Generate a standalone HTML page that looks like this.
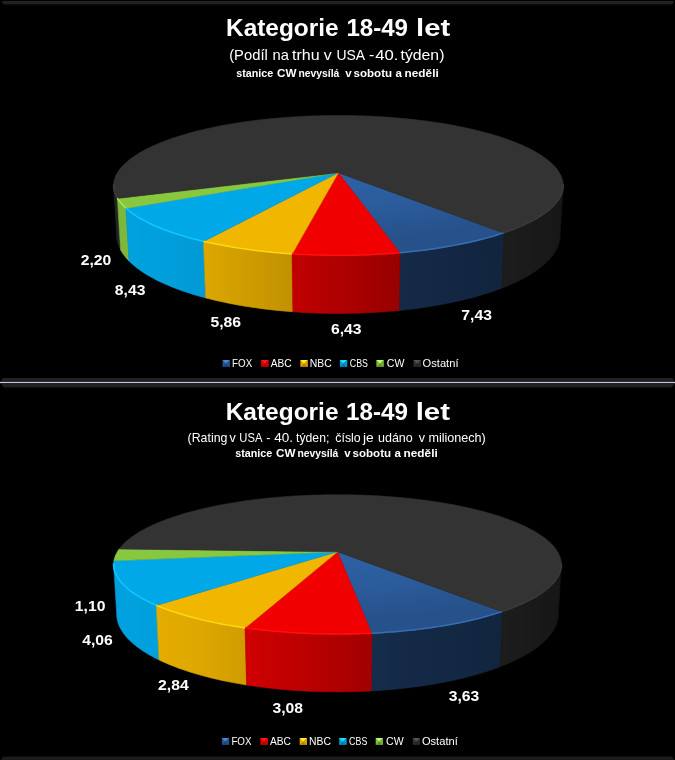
<!DOCTYPE html>
<html><head><meta charset="utf-8"><title>Kategorie 18-49 let</title>
<style>html,body{margin:0;padding:0;background:#000;}svg{display:block;font-family:"Liberation Sans",sans-serif;}</style>
</head><body>
<svg width="675" height="760" viewBox="0 0 675 760">
<defs>
<linearGradient id="ga0" gradientUnits="userSpaceOnUse" x1="117.4" y1="0" x2="113.6" y2="0"><stop offset="-0.000" stop-color="#242424"/><stop offset="0.331" stop-color="#242424"/><stop offset="0.595" stop-color="#242424"/><stop offset="0.793" stop-color="#242424"/><stop offset="0.926" stop-color="#242424"/><stop offset="0.994" stop-color="#242424"/><stop offset="1.000" stop-color="#232323"/></linearGradient>
<linearGradient id="ga1" gradientUnits="userSpaceOnUse" x1="125.9" y1="0" x2="117.4" y2="0"><stop offset="-0.000" stop-color="#7db83b"/><stop offset="0.207" stop-color="#7db83b"/><stop offset="0.398" stop-color="#7db83b"/><stop offset="0.572" stop-color="#7db73b"/><stop offset="0.731" stop-color="#7cb73b"/><stop offset="0.873" stop-color="#7cb73a"/><stop offset="1.000" stop-color="#7cb73a"/></linearGradient>
<linearGradient id="ga2" gradientUnits="userSpaceOnUse" x1="563.2" y1="0" x2="503.5" y2="0"><stop offset="-0.000" stop-color="#141414"/><stop offset="0.021" stop-color="#161616"/><stop offset="0.098" stop-color="#171717"/><stop offset="0.234" stop-color="#181818"/><stop offset="0.430" stop-color="#191919"/><stop offset="0.686" stop-color="#1b1b1b"/><stop offset="1.000" stop-color="#1c1c1c"/></linearGradient>
<linearGradient id="ga3" gradientUnits="userSpaceOnUse" x1="203.6" y1="0" x2="125.9" y2="0"><stop offset="-0.000" stop-color="#009bd5"/><stop offset="0.227" stop-color="#009cd8"/><stop offset="0.432" stop-color="#009eda"/><stop offset="0.613" stop-color="#00a0dc"/><stop offset="0.768" stop-color="#00a0dd"/><stop offset="0.897" stop-color="#00a1de"/><stop offset="1.000" stop-color="#00a1de"/></linearGradient>
<linearGradient id="ga4" gradientUnits="userSpaceOnUse" x1="503.5" y1="0" x2="400.0" y2="0"><stop offset="-0.000" stop-color="#11253e"/><stop offset="0.138" stop-color="#12253f"/><stop offset="0.289" stop-color="#122641"/><stop offset="0.452" stop-color="#132742"/><stop offset="0.626" stop-color="#132844"/><stop offset="0.809" stop-color="#132945"/><stop offset="1.000" stop-color="#142a47"/></linearGradient>
<linearGradient id="ga5" gradientUnits="userSpaceOnUse" x1="292.1" y1="0" x2="203.6" y2="0"><stop offset="-0.000" stop-color="#c19100"/><stop offset="0.181" stop-color="#c69500"/><stop offset="0.357" stop-color="#cb9900"/><stop offset="0.528" stop-color="#d09d00"/><stop offset="0.693" stop-color="#d4a000"/><stop offset="0.851" stop-color="#d9a400"/><stop offset="1.000" stop-color="#dea700"/></linearGradient>
<linearGradient id="ga6" gradientUnits="userSpaceOnUse" x1="400.0" y1="0" x2="292.1" y2="0"><stop offset="-0.000" stop-color="#980000"/><stop offset="0.163" stop-color="#9e0000"/><stop offset="0.329" stop-color="#a50000"/><stop offset="0.498" stop-color="#ac0000"/><stop offset="0.666" stop-color="#b30000"/><stop offset="0.834" stop-color="#ba0000"/><stop offset="1.000" stop-color="#c10000"/></linearGradient>
<radialGradient id="ta" gradientUnits="userSpaceOnUse" cx="338.4" cy="172.8" r="225" gradientTransform="translate(0 172.8) scale(1 0.31) translate(0 -172.8)"><stop offset="0" stop-color="#2e62a6"/><stop offset="0.55" stop-color="#2b5b9a"/><stop offset="1" stop-color="#26518a"/></radialGradient>
<linearGradient id="gb0" gradientUnits="userSpaceOnUse" x1="156.4" y1="0" x2="113.6" y2="0"><stop offset="-0.000" stop-color="#00a0dc"/><stop offset="0.316" stop-color="#00a0dd"/><stop offset="0.573" stop-color="#00a1de"/><stop offset="0.768" stop-color="#00a1de"/><stop offset="0.903" stop-color="#00a0dd"/><stop offset="0.980" stop-color="#009fdb"/><stop offset="1.000" stop-color="#009eda"/></linearGradient>
<linearGradient id="gb1" gradientUnits="userSpaceOnUse" x1="561.4" y1="0" x2="501.9" y2="0"><stop offset="-0.000" stop-color="#141414"/><stop offset="0.021" stop-color="#161616"/><stop offset="0.098" stop-color="#171717"/><stop offset="0.234" stop-color="#181818"/><stop offset="0.430" stop-color="#191919"/><stop offset="0.686" stop-color="#1b1b1b"/><stop offset="1.000" stop-color="#1c1c1c"/></linearGradient>
<linearGradient id="gb2" gradientUnits="userSpaceOnUse" x1="245.0" y1="0" x2="156.4" y2="0"><stop offset="-0.000" stop-color="#d09d00"/><stop offset="0.198" stop-color="#d5a100"/><stop offset="0.385" stop-color="#dba500"/><stop offset="0.559" stop-color="#dfa800"/><stop offset="0.721" stop-color="#e1aa00"/><stop offset="0.868" stop-color="#e3ab00"/><stop offset="1.000" stop-color="#e5ad00"/></linearGradient>
<linearGradient id="gb3" gradientUnits="userSpaceOnUse" x1="501.9" y1="0" x2="371.8" y2="0"><stop offset="-0.000" stop-color="#11253e"/><stop offset="0.135" stop-color="#122640"/><stop offset="0.285" stop-color="#122741"/><stop offset="0.449" stop-color="#132843"/><stop offset="0.624" stop-color="#132945"/><stop offset="0.809" stop-color="#142a47"/><stop offset="1.000" stop-color="#152d4c"/></linearGradient>
<linearGradient id="gb4" gradientUnits="userSpaceOnUse" x1="371.8" y1="0" x2="245.0" y2="0"><stop offset="-0.000" stop-color="#a20000"/><stop offset="0.170" stop-color="#aa0000"/><stop offset="0.341" stop-color="#b20000"/><stop offset="0.512" stop-color="#bb0000"/><stop offset="0.679" stop-color="#c20000"/><stop offset="0.843" stop-color="#c90000"/><stop offset="1.000" stop-color="#d00000"/></linearGradient>
<radialGradient id="tb" gradientUnits="userSpaceOnUse" cx="337.5" cy="551.8" r="225" gradientTransform="translate(0 551.8) scale(1 0.31) translate(0 -551.8)"><stop offset="0" stop-color="#2e62a6"/><stop offset="0.55" stop-color="#2b5b9a"/><stop offset="1" stop-color="#26518a"/></radialGradient>
</defs>
<rect x="0" y="0" width="675" height="760" fill="#000"/>
<polygon points="1.50,1.00 674.00,1.00 672.50,4.00 3.50,4.00" fill="#212121"/>
<polygon points="3.50,4.00 672.50,4.00 671.50,5.60 4.50,5.60" fill="#0b0b0b"/>
<polygon points="3.00,378.00 672.50,378.00 674.50,381.50 0.60,381.50" fill="#222222"/>
<rect x="0" y="382" width="675" height="1" fill="#c4cad8"/>
<rect x="0" y="381.6" width="675" height="0.4" fill="#505460"/>
<rect x="0" y="383" width="675" height="0.4" fill="#505460"/>
<polygon points="1.20,384.00 674.00,384.00 672.00,387.00 3.50,387.00" fill="#212121"/>
<polygon points="3.50,387.00 672.00,387.00 671.00,388.60 4.50,388.60" fill="#0b0b0b"/>
<polygon points="3.00,756.50 672.00,756.50 674.00,760.00 1.00,760.00" fill="#1b1b1b"/>
<polygon points="117.42,198.45 116.69,197.18 116.05,195.91 115.47,194.64 114.98,193.38 114.56,192.11 114.21,190.85 113.94,189.59 113.74,188.33 113.62,187.08 113.56,185.83 113.58,184.58 116.71,234.53 116.70,235.92 116.76,237.32 116.90,238.71 117.10,240.12 117.38,241.52 117.73,242.92 118.16,244.33 118.66,245.74 119.23,247.15 119.88,248.56 120.60,249.98" fill="url(#ga0)" stroke="url(#ga0)" stroke-width="0.6"/>
<polygon points="125.88,208.40 124.37,206.99 122.96,205.57 121.65,204.15 120.45,202.73 119.34,201.30 118.33,199.88 117.42,198.45 120.60,249.98 121.51,251.57 122.52,253.16 123.62,254.74 124.82,256.33 126.12,257.91 127.52,259.48 129.02,261.05" fill="url(#ga1)" stroke="url(#ga1)" stroke-width="0.6"/>
<polygon points="563.22,184.58 563.24,185.83 563.18,187.09 563.06,188.35 562.86,189.61 562.58,190.87 562.23,192.14 561.81,193.41 561.31,194.68 560.73,195.96 560.08,197.23 559.35,198.50 558.54,199.77 557.65,201.05 556.69,202.32 555.64,203.58 554.52,204.85 553.31,206.11 552.03,207.37 550.66,208.63 549.22,209.88 547.69,211.13 546.08,212.37 544.40,213.60 542.63,214.83 540.78,216.05 538.85,217.27 536.84,218.47 534.74,219.67 532.57,220.85 530.32,222.03 527.99,223.19 525.57,224.35 523.08,225.49 520.51,226.62 517.87,227.74 515.14,228.84 512.34,229.93 509.46,231.00 506.50,232.06 503.48,233.10 500.89,288.49 503.88,287.33 506.80,286.16 509.64,284.97 512.40,283.76 515.09,282.53 517.71,281.29 520.24,280.04 522.70,278.77 525.09,277.49 527.39,276.20 529.62,274.89 531.77,273.57 533.83,272.24 535.82,270.90 537.73,269.55 539.56,268.20 541.32,266.83 542.99,265.46 544.58,264.08 546.09,262.69 547.53,261.30 548.88,259.91 550.16,258.50 551.35,257.10 552.47,255.69 553.51,254.28 554.47,252.87 555.36,251.45 556.16,250.04 556.89,248.62 557.55,247.20 558.13,245.79 558.63,244.37 559.06,242.96 559.41,241.55 559.69,240.14 559.90,238.73 560.04,237.33 560.10,235.93 560.09,234.53" fill="url(#ga2)" stroke="url(#ga2)" stroke-width="0.6"/>
<polygon points="203.57,241.60 199.90,240.72 196.30,239.83 192.77,238.91 189.30,237.97 185.90,237.02 182.58,236.04 179.32,235.04 176.14,234.03 173.03,233.00 170.00,231.95 167.04,230.89 164.16,229.81 161.35,228.71 158.62,227.61 155.97,226.48 153.40,225.35 150.91,224.20 148.50,223.04 146.17,221.87 143.92,220.69 141.75,219.49 139.66,218.29 137.65,217.08 135.73,215.86 133.88,214.63 132.12,213.40 130.44,212.16 128.84,210.91 127.32,209.66 125.88,208.40 129.02,261.05 130.45,262.45 131.95,263.84 133.54,265.23 135.20,266.61 136.95,267.98 138.77,269.34 140.68,270.70 142.67,272.04 144.73,273.38 146.88,274.70 149.10,276.02 151.40,277.32 153.79,278.61 156.25,279.88 158.79,281.14 161.40,282.39 164.09,283.62 166.86,284.84 169.71,286.04 172.62,287.22 175.62,288.38 178.68,289.52 181.82,290.65 185.03,291.75 188.31,292.84 191.66,293.90 195.08,294.94 198.56,295.96 202.11,296.95 205.72,297.92" fill="url(#ga3)" stroke="url(#ga3)" stroke-width="0.6"/>
<polygon points="503.48,233.10 500.31,234.15 497.06,235.17 493.74,236.18 490.35,237.17 486.88,238.14 483.34,239.09 479.73,240.02 476.06,240.93 472.31,241.81 468.50,242.67 464.62,243.51 460.68,244.33 456.68,245.12 452.62,245.88 448.51,246.62 444.33,247.33 440.11,248.02 435.83,248.68 431.50,249.31 427.12,249.91 422.69,250.49 418.23,251.03 413.72,251.55 409.17,252.04 404.58,252.49 399.96,252.92 398.95,310.48 403.50,310.00 408.01,309.50 412.49,308.96 416.93,308.38 421.32,307.78 425.68,307.14 429.99,306.47 434.25,305.77 438.46,305.04 442.62,304.28 446.73,303.49 450.79,302.67 454.78,301.82 458.72,300.95 462.60,300.05 466.42,299.12 470.17,298.16 473.86,297.18 477.49,296.17 481.04,295.14 484.53,294.09 487.95,293.01 491.29,291.91 494.57,290.79 497.77,289.65 500.89,288.49" fill="url(#ga4)" stroke="url(#ga4)" stroke-width="0.6"/>
<polygon points="292.13,254.10 287.52,253.78 282.94,253.43 278.38,253.06 273.86,252.65 269.37,252.21 264.91,251.75 260.49,251.26 256.11,250.74 251.77,250.19 247.48,249.61 243.22,249.01 239.02,248.38 234.86,247.73 230.76,247.04 226.70,246.34 222.70,245.61 218.76,244.85 214.87,244.07 211.04,243.27 207.28,242.45 203.57,241.60 205.72,297.92 209.37,298.86 213.08,299.78 216.85,300.67 220.68,301.53 224.56,302.37 228.50,303.18 232.49,303.96 236.53,304.72 240.63,305.44 244.77,306.14 248.95,306.81 253.18,307.45 257.45,308.06 261.76,308.63 266.11,309.18 270.50,309.69 274.91,310.18 279.37,310.63 283.85,311.04 288.35,311.43 292.89,311.78" fill="url(#ga5)" stroke="url(#ga5)" stroke-width="0.6"/>
<polygon points="399.96,252.92 395.41,253.31 390.83,253.67 386.22,253.99 381.59,254.29 376.93,254.56 372.26,254.80 367.57,255.01 362.86,255.18 358.14,255.33 353.42,255.44 348.68,255.52 343.94,255.58 339.19,255.60 334.45,255.59 329.71,255.55 324.97,255.47 320.24,255.37 315.51,255.23 310.80,255.07 306.11,254.87 301.43,254.64 296.77,254.39 292.13,254.10 292.89,311.78 297.45,312.10 302.03,312.39 306.64,312.64 311.26,312.86 315.89,313.04 320.53,313.19 325.19,313.31 329.85,313.39 334.51,313.43 339.18,313.44 343.85,313.42 348.51,313.36 353.17,313.27 357.82,313.15 362.46,312.98 367.09,312.79 371.70,312.56 376.30,312.30 380.88,312.00 385.44,311.67 389.97,311.30 394.48,310.91 398.95,310.48" fill="url(#ga6)" stroke="url(#ga6)" stroke-width="0.6"/>
<polygon points="338.40,172.80 503.48,233.10 500.31,234.15 497.06,235.17 493.74,236.18 490.35,237.17 486.88,238.14 483.34,239.09 479.73,240.02 476.06,240.93 472.31,241.81 468.50,242.67 464.62,243.51 460.68,244.33 456.68,245.12 452.62,245.88 448.51,246.62 444.33,247.33 440.11,248.02 435.83,248.68 431.50,249.31 427.12,249.91 422.69,250.49 418.23,251.03 413.72,251.55 409.17,252.04 404.58,252.49 399.96,252.92" fill="url(#ta)" stroke="#2b5b9a" stroke-width="0.5"/>
<polygon points="338.40,172.80 399.96,252.92 395.41,253.31 390.83,253.67 386.22,253.99 381.59,254.29 376.93,254.56 372.26,254.80 367.57,255.01 362.86,255.18 358.14,255.33 353.42,255.44 348.68,255.52 343.94,255.58 339.19,255.60 334.45,255.59 329.71,255.55 324.97,255.47 320.24,255.37 315.51,255.23 310.80,255.07 306.11,254.87 301.43,254.64 296.77,254.39 292.13,254.10" fill="#f10000" stroke="#f10000" stroke-width="0.5"/>
<polygon points="338.40,172.80 292.13,254.10 287.52,253.78 282.94,253.43 278.38,253.06 273.86,252.65 269.37,252.21 264.91,251.75 260.49,251.26 256.11,250.74 251.77,250.19 247.48,249.61 243.22,249.01 239.02,248.38 234.86,247.73 230.76,247.04 226.70,246.34 222.70,245.61 218.76,244.85 214.87,244.07 211.04,243.27 207.28,242.45 203.57,241.60" fill="#f1b600" stroke="#f1b600" stroke-width="0.5"/>
<polygon points="338.40,172.80 203.57,241.60 199.90,240.72 196.30,239.83 192.77,238.91 189.30,237.97 185.90,237.02 182.58,236.04 179.32,235.04 176.14,234.03 173.03,233.00 170.00,231.95 167.04,230.89 164.16,229.81 161.35,228.71 158.62,227.61 155.97,226.48 153.40,225.35 150.91,224.20 148.50,223.04 146.17,221.87 143.92,220.69 141.75,219.49 139.66,218.29 137.65,217.08 135.73,215.86 133.88,214.63 132.12,213.40 130.44,212.16 128.84,210.91 127.32,209.66 125.88,208.40" fill="#00a8e8" stroke="#00a8e8" stroke-width="0.5"/>
<polygon points="338.40,172.80 125.88,208.40 124.37,206.99 122.96,205.57 121.65,204.15 120.45,202.73 119.34,201.30 118.33,199.88 117.42,198.45" fill="#88c840" stroke="#88c840" stroke-width="0.5"/>
<polygon points="338.40,172.80 117.42,198.45 116.69,197.18 116.05,195.91 115.48,194.65 114.98,193.38 114.56,192.12 114.21,190.86 113.94,189.60 113.74,188.34 113.62,187.08 113.56,185.83 113.58,184.59 113.67,183.35 113.83,182.11 114.05,180.88 114.35,179.65 114.71,178.43 115.14,177.21 115.64,176.00 116.20,174.80 116.83,173.61 117.52,172.42 118.28,171.24 119.09,170.07 119.97,168.90 120.91,167.75 121.91,166.60 122.96,165.46 124.08,164.33 125.25,163.22 126.48,162.11 127.76,161.01 129.10,159.92 130.49,158.84 131.94,157.77 133.43,156.71 134.98,155.67 136.58,154.63 138.23,153.61 139.92,152.59 141.67,151.59 143.46,150.60 145.30,149.62 147.18,148.66 149.10,147.70 151.07,146.76 153.09,145.83 155.14,144.92 157.24,144.01 159.37,143.12 161.55,142.25 163.76,141.38 166.01,140.53 168.30,139.69 170.62,138.87 172.98,138.05 175.38,137.26 177.81,136.47 180.27,135.70 182.76,134.94 185.29,134.20 187.85,133.47 190.43,132.75 193.05,132.05 195.69,131.37 198.37,130.69 201.07,130.03 203.79,129.39 206.55,128.76 209.32,128.14 212.13,127.54 214.95,126.95 217.80,126.37 220.67,125.81 223.57,125.27 226.48,124.74 229.42,124.22 232.37,123.72 235.34,123.24 238.34,122.76 241.35,122.31 244.37,121.86 247.42,121.43 250.48,121.02 253.56,120.62 256.65,120.24 259.75,119.87 262.87,119.51 266.00,119.17 269.15,118.85 272.30,118.54 275.47,118.24 278.65,117.96 281.84,117.69 285.03,117.44 288.24,117.21 291.46,116.99 294.68,116.78 297.91,116.59 301.15,116.41 304.39,116.25 307.64,116.10 310.89,115.97 314.15,115.85 317.42,115.75 320.68,115.66 323.95,115.59 327.22,115.53 330.50,115.48 333.77,115.46 337.05,115.44 340.32,115.44 343.60,115.46 346.87,115.49 350.15,115.54 353.42,115.60 356.69,115.67 359.95,115.76 363.21,115.87 366.47,115.99 369.73,116.12 372.97,116.27 376.22,116.44 379.45,116.62 382.68,116.81 385.90,117.02 389.12,117.25 392.32,117.49 395.52,117.74 398.71,118.01 401.88,118.29 405.05,118.59 408.20,118.90 411.34,119.23 414.47,119.57 417.59,119.93 420.69,120.30 423.78,120.69 426.85,121.09 429.91,121.51 432.95,121.94 435.98,122.38 438.98,122.84 441.97,123.32 444.94,123.81 447.90,124.31 450.83,124.83 453.74,125.36 456.63,125.91 459.50,126.47 462.34,127.05 465.16,127.64 467.96,128.24 470.73,128.86 473.48,129.50 476.20,130.15 478.90,130.81 481.57,131.48 484.21,132.17 486.82,132.88 489.40,133.60 491.95,134.33 494.47,135.07 496.96,135.83 499.42,136.61 501.84,137.39 504.23,138.19 506.58,139.01 508.90,139.84 511.18,140.68 513.43,141.53 515.63,142.40 517.80,143.28 519.93,144.17 522.02,145.08 524.07,145.99 526.07,146.93 528.03,147.87 529.95,148.82 531.83,149.79 533.66,150.77 535.44,151.76 537.17,152.77 538.86,153.78 540.50,154.81 542.09,155.85 543.63,156.90 545.12,157.95 546.55,159.03 547.94,160.11 549.26,161.20 550.54,162.30 551.76,163.41 552.92,164.53 554.02,165.66 555.07,166.80 556.06,167.95 556.99,169.10 557.85,170.27 558.66,171.44 559.40,172.63 560.08,173.81 560.70,175.01 561.25,176.21 561.73,177.42 562.15,178.64 562.51,179.86 562.79,181.09 563.01,182.32 563.15,183.56 563.23,184.80 563.23,186.05 563.17,187.30 563.03,188.56 562.82,189.81 562.53,191.07 562.17,192.34 561.74,193.60 561.23,194.87 560.65,196.13 559.99,197.40 559.25,198.67 558.43,199.93 557.54,201.20 556.57,202.46 555.52,203.73 554.39,204.99 553.18,206.24 551.90,207.50 550.53,208.75 549.08,209.99 547.56,211.23 545.95,212.47 544.26,213.70 542.50,214.92 540.65,216.13 538.72,217.34 536.71,218.54 534.63,219.73 532.46,220.91 530.21,222.08 527.89,223.24 525.49,224.39 523.00,225.53 520.44,226.65 517.80,227.76 515.09,228.86 512.30,229.94 509.43,231.01 506.49,232.06 503.48,233.10" fill="#333333" stroke="#333333" stroke-width="0.5"/>
<polyline points="117.40,198.21 116.68,196.95 116.03,195.68 115.46,194.41 114.96,193.15 114.54,191.88 114.20,190.62 113.92,189.36 113.73,188.10 113.60,186.85 113.55,185.60 113.57,184.35" fill="none" stroke="#3a3a3a" stroke-width="1.5"/>
<polyline points="125.87,208.16 124.36,206.75 122.95,205.34 121.64,203.92 120.43,202.49 119.32,201.07 118.31,199.64 117.40,198.21" fill="none" stroke="#a2e852" stroke-width="1.5"/>
<polyline points="563.23,184.35 563.25,185.60 563.20,186.86 563.07,188.12 562.87,189.38 562.60,190.64 562.25,191.91 561.82,193.18 561.32,194.45 560.75,195.72 560.09,196.99 559.36,198.27 558.55,199.54 557.67,200.81 556.70,202.08 555.66,203.35 554.53,204.61 553.33,205.88 552.04,207.13 550.68,208.39 549.23,209.64 547.70,210.89 546.10,212.13 544.41,213.36 542.64,214.59 540.79,215.81 538.86,217.02 536.85,218.23 534.76,219.42 532.58,220.61 530.33,221.78 528.00,222.95 525.59,224.10 523.10,225.24 520.53,226.37 517.88,227.49 515.15,228.59 512.35,229.68 509.47,230.75 506.52,231.81 503.49,232.85" fill="none" stroke="#3a3a3a" stroke-width="1.5"/>
<polyline points="203.56,241.34 199.89,240.47 196.29,239.57 192.76,238.66 189.29,237.72 185.89,236.76 182.57,235.79 179.31,234.79 176.13,233.78 173.02,232.75 169.99,231.70 167.03,230.64 164.14,229.56 161.34,228.47 158.61,227.36 155.96,226.24 153.39,225.10 150.90,223.95 148.49,222.79 146.16,221.62 143.91,220.44 141.74,219.25 139.65,218.05 137.64,216.84 135.71,215.62 133.87,214.39 132.11,213.16 130.43,211.92 128.83,210.67 127.31,209.42 125.87,208.16" fill="none" stroke="#0ec7ff" stroke-width="1.5"/>
<polyline points="503.49,232.85 500.32,233.89 497.07,234.92 493.75,235.93 490.36,236.92 486.89,237.89 483.35,238.84 479.74,239.77 476.07,240.67 472.32,241.56 468.51,242.42 464.63,243.26 460.69,244.07 456.69,244.86 452.63,245.62 448.51,246.36 444.34,247.07 440.11,247.76 435.83,248.42 431.50,249.05 427.12,249.65 422.70,250.23 418.23,250.77 413.72,251.29 409.17,251.77 404.59,252.23 399.97,252.66" fill="none" stroke="#386db2" stroke-width="1.5"/>
<polyline points="292.12,253.84 287.52,253.52 282.93,253.17 278.38,252.79 273.86,252.39 269.36,251.95 264.91,251.49 260.49,251.00 256.11,250.47 251.77,249.93 247.47,249.35 243.22,248.75 239.01,248.12 234.85,247.47 230.75,246.79 226.69,246.08 222.69,245.35 218.75,244.59 214.86,243.82 211.03,243.01 207.27,242.19 203.56,241.34" fill="none" stroke="#ffd70f" stroke-width="1.5"/>
<polyline points="399.97,252.66 395.41,253.05 390.83,253.40 386.22,253.73 381.59,254.03 376.94,254.30 372.26,254.54 367.57,254.74 362.87,254.92 358.15,255.06 353.42,255.18 348.68,255.26 343.94,255.31 339.19,255.33 334.45,255.32 329.71,255.28 324.97,255.21 320.23,255.11 315.51,254.97 310.80,254.80 306.10,254.61 301.42,254.38 296.76,254.12 292.12,253.84" fill="none" stroke="#ff0f0f" stroke-width="1.5"/>
<polygon points="156.36,605.51 153.79,604.38 151.29,603.24 148.88,602.09 146.54,600.93 144.29,599.75 142.11,598.57 140.01,597.38 138.00,596.17 136.07,594.96 134.21,593.74 132.44,592.52 130.75,591.29 129.14,590.05 127.61,588.80 126.16,587.55 124.80,586.30 123.51,585.04 122.30,583.78 121.17,582.51 120.13,581.25 119.16,579.98 118.27,578.71 117.46,577.44 116.73,576.17 116.07,574.89 115.50,573.62 115.00,572.35 114.57,571.09 114.22,569.82 113.95,568.56 113.75,567.29 113.62,566.04 113.56,564.78 113.58,563.53 116.70,613.29 116.69,614.68 116.75,616.08 116.89,617.48 117.10,618.88 117.38,620.29 117.73,621.70 118.16,623.11 118.67,624.52 119.25,625.94 119.90,627.35 120.63,628.77 121.44,630.18 122.33,631.60 123.29,633.01 124.33,634.42 125.45,635.82 126.65,637.23 127.93,638.63 129.29,640.02 130.72,641.41 132.24,642.79 133.83,644.17 135.51,645.54 137.26,646.91 139.09,648.26 141.01,649.61 143.00,650.94 145.07,652.27 147.22,653.58 149.45,654.89 151.76,656.18 154.15,657.46 156.61,658.72 159.16,659.98" fill="url(#gb0)" stroke="url(#gb0)" stroke-width="0.6"/>
<polygon points="561.42,563.53 561.44,564.78 561.38,566.03 561.26,567.28 561.06,568.54 560.78,569.80 560.44,571.06 560.01,572.33 559.52,573.60 558.94,574.86 558.29,576.13 557.56,577.40 556.76,578.67 555.87,579.93 554.91,581.20 553.87,582.46 552.75,583.72 551.55,584.98 550.27,586.24 548.91,587.49 547.47,588.73 545.95,589.97 544.35,591.21 542.67,592.44 540.91,593.66 539.07,594.88 537.14,596.09 535.14,597.29 533.06,598.48 530.89,599.66 528.65,600.83 526.33,601.99 523.92,603.14 521.44,604.28 518.88,605.40 516.25,606.51 513.53,607.61 510.74,608.70 507.87,609.77 504.93,610.82 501.91,611.86 499.34,667.03 502.32,665.87 505.22,664.70 508.05,663.52 510.80,662.31 513.48,661.09 516.09,659.86 518.61,658.61 521.06,657.35 523.44,656.07 525.73,654.78 527.95,653.48 530.09,652.17 532.15,650.84 534.13,649.51 536.03,648.17 537.86,646.82 539.60,645.46 541.27,644.09 542.85,642.71 544.36,641.33 545.79,639.95 547.14,638.56 548.41,637.16 549.60,635.76 550.71,634.36 551.75,632.95 552.71,631.55 553.59,630.14 554.39,628.73 555.12,627.32 555.77,625.90 556.35,624.49 556.85,623.08 557.27,621.68 557.63,620.27 557.91,618.87 558.11,617.47 558.25,616.07 558.31,614.68 558.30,613.29" fill="url(#gb1)" stroke="url(#gb1)" stroke-width="0.6"/>
<polygon points="245.04,628.04 240.76,627.42 236.52,626.77 232.33,626.09 228.19,625.39 224.11,624.66 220.09,623.90 216.12,623.12 212.22,622.32 208.37,621.49 204.59,620.64 200.88,619.77 197.23,618.88 193.65,617.96 190.13,617.02 186.69,616.07 183.32,615.09 180.02,614.09 176.80,613.08 173.65,612.05 170.57,611.00 167.57,609.93 164.65,608.85 161.81,607.75 159.05,606.64 156.36,605.51 159.16,659.98 161.81,661.23 164.53,662.46 167.34,663.68 170.22,664.88 173.18,666.07 176.21,667.23 179.32,668.38 182.50,669.51 185.75,670.61 189.07,671.70 192.47,672.76 195.93,673.80 199.46,674.82 203.05,675.81 206.71,676.78 210.44,677.72 214.22,678.64 218.07,679.53 221.97,680.39 225.94,681.23 229.95,682.04 234.03,682.82 238.15,683.57 242.32,684.29 246.54,684.98" fill="url(#gb2)" stroke="url(#gb2)" stroke-width="0.6"/>
<polygon points="501.91,611.86 498.78,612.89 495.58,613.91 492.29,614.91 488.94,615.89 485.52,616.85 482.02,617.78 478.46,618.70 474.83,619.60 471.13,620.48 467.37,621.33 463.54,622.16 459.65,622.97 455.71,623.75 451.70,624.51 447.64,625.24 443.52,625.95 439.35,626.63 435.12,627.28 430.85,627.91 426.53,628.51 422.16,629.09 417.75,629.63 413.30,630.15 408.81,630.63 404.29,631.09 399.73,631.52 395.13,631.91 390.51,632.28 385.86,632.62 381.18,632.93 376.48,633.20 371.76,633.44 371.20,690.97 375.84,690.70 380.47,690.39 385.07,690.06 389.64,689.68 394.19,689.28 398.71,688.83 403.20,688.36 407.65,687.85 412.07,687.31 416.45,686.74 420.79,686.14 425.08,685.50 429.34,684.84 433.54,684.14 437.70,683.42 441.81,682.66 445.86,681.88 449.86,681.06 453.81,680.22 457.70,679.35 461.52,678.46 465.29,677.54 469.00,676.59 472.64,675.62 476.22,674.62 479.73,673.60 483.18,672.56 486.55,671.50 489.86,670.41 493.09,669.30 496.25,668.17 499.34,667.03" fill="url(#gb3)" stroke="url(#gb3)" stroke-width="0.6"/>
<polygon points="371.76,633.44 367.00,633.66 362.22,633.84 357.43,633.99 352.62,634.11 347.81,634.19 342.99,634.24 338.17,634.27 333.35,634.25 328.53,634.21 323.72,634.13 318.91,634.03 314.12,633.88 309.33,633.71 304.56,633.51 299.81,633.27 295.08,633.00 290.37,632.70 285.69,632.37 281.03,632.01 276.40,631.62 271.81,631.20 267.25,630.74 262.73,630.26 258.24,629.75 253.80,629.21 249.40,628.64 245.04,628.04 246.54,684.98 250.83,685.64 255.16,686.27 259.53,686.87 263.94,687.44 268.40,687.98 272.88,688.48 277.40,688.95 281.96,689.38 286.54,689.78 291.14,690.15 295.78,690.48 300.43,690.78 305.10,691.04 309.80,691.27 314.50,691.46 319.22,691.61 323.95,691.73 328.68,691.82 333.42,691.87 338.16,691.88 342.90,691.86 347.64,691.80 352.37,691.70 357.10,691.57 361.81,691.41 366.52,691.21 371.20,690.97" fill="url(#gb4)" stroke="url(#gb4)" stroke-width="0.6"/>
<polygon points="337.50,551.80 501.91,611.86 498.78,612.89 495.58,613.91 492.29,614.91 488.94,615.89 485.52,616.85 482.02,617.78 478.46,618.70 474.83,619.60 471.13,620.48 467.37,621.33 463.54,622.16 459.65,622.97 455.71,623.75 451.70,624.51 447.64,625.24 443.52,625.95 439.35,626.63 435.12,627.28 430.85,627.91 426.53,628.51 422.16,629.09 417.75,629.63 413.30,630.15 408.81,630.63 404.29,631.09 399.73,631.52 395.13,631.91 390.51,632.28 385.86,632.62 381.18,632.93 376.48,633.20 371.76,633.44" fill="url(#tb)" stroke="#2b5b9a" stroke-width="0.5"/>
<polygon points="337.50,551.80 371.76,633.44 367.00,633.66 362.22,633.84 357.43,633.99 352.62,634.11 347.81,634.19 342.99,634.24 338.17,634.27 333.35,634.25 328.53,634.21 323.72,634.13 318.91,634.03 314.12,633.88 309.33,633.71 304.56,633.51 299.81,633.27 295.08,633.00 290.37,632.70 285.69,632.37 281.03,632.01 276.40,631.62 271.81,631.20 267.25,630.74 262.73,630.26 258.24,629.75 253.80,629.21 249.40,628.64 245.04,628.04" fill="#f10000" stroke="#f10000" stroke-width="0.5"/>
<polygon points="337.50,551.80 245.04,628.04 240.76,627.42 236.52,626.77 232.33,626.09 228.19,625.39 224.11,624.66 220.09,623.90 216.12,623.12 212.22,622.32 208.37,621.49 204.59,620.64 200.88,619.77 197.23,618.88 193.65,617.96 190.13,617.02 186.69,616.07 183.32,615.09 180.02,614.09 176.80,613.08 173.65,612.05 170.57,611.00 167.57,609.93 164.65,608.85 161.81,607.75 159.05,606.64 156.36,605.51" fill="#f1b600" stroke="#f1b600" stroke-width="0.5"/>
<polygon points="337.50,551.80 156.36,605.51 153.78,604.38 151.27,603.23 148.84,602.07 146.50,600.91 144.23,599.73 142.05,598.54 139.95,597.34 137.93,596.13 135.99,594.91 134.13,593.69 132.35,592.45 130.66,591.22 129.04,589.97 127.51,588.72 126.06,587.46 124.70,586.20 123.41,584.94 122.20,583.67 121.08,582.40 120.03,581.13 119.07,579.85 118.18,578.58 117.38,577.30 116.65,576.02 116.00,574.75 115.43,573.47 114.94,572.19 114.52,570.92 114.18,569.65 113.91,568.38 113.72,567.11 113.61,565.85 113.56,564.59 113.59,563.33 113.69,562.08 113.86,560.84" fill="#00a8e8" stroke="#00a8e8" stroke-width="0.5"/>
<polygon points="337.50,551.80 113.86,560.84 114.13,559.49 114.48,558.15 114.91,556.82 115.42,555.50 116.01,554.18 116.67,552.88 117.41,551.58 118.23,550.29 119.13,549.01" fill="#88c840" stroke="#88c840" stroke-width="0.5"/>
<polygon points="337.50,551.80 119.13,549.01 120.00,547.85 120.94,546.70 121.94,545.56 122.99,544.42 124.11,543.30 125.28,542.19 126.50,541.08 127.79,539.99 129.12,538.91 130.51,537.83 131.95,536.77 133.45,535.72 134.99,534.67 136.58,533.64 138.23,532.62 139.92,531.62 141.66,530.62 143.44,529.63 145.27,528.66 147.15,527.70 149.07,526.75 151.04,525.82 153.04,524.89 155.09,523.98 157.18,523.08 159.31,522.19 161.47,521.32 163.68,520.46 165.92,519.61 168.20,518.78 170.52,517.96 172.87,517.15 175.26,516.36 177.68,515.58 180.13,514.81 182.62,514.06 185.13,513.32 187.68,512.59 190.26,511.88 192.87,511.18 195.50,510.50 198.16,509.83 200.85,509.17 203.57,508.53 206.31,507.90 209.08,507.29 211.87,506.69 214.68,506.10 217.52,505.53 220.38,504.98 223.26,504.43 226.17,503.91 229.09,503.39 232.03,502.90 235.00,502.41 237.98,501.94 240.98,501.49 243.99,501.05 247.02,500.62 250.07,500.21 253.13,499.81 256.21,499.43 259.30,499.06 262.41,498.71 265.53,498.37 268.66,498.05 271.80,497.74 274.96,497.45 278.12,497.17 281.30,496.90 284.48,496.65 287.68,496.42 290.88,496.20 294.09,495.99 297.30,495.80 300.53,495.63 303.76,495.47 306.99,495.32 310.23,495.19 313.48,495.07 316.73,494.97 319.98,494.88 323.24,494.81 326.49,494.75 329.75,494.71 333.01,494.68 336.28,494.67 339.54,494.67 342.80,494.69 346.06,494.72 349.32,494.77 352.58,494.83 355.83,494.90 359.08,495.00 362.33,495.10 365.58,495.22 368.81,495.36 372.05,495.51 375.28,495.67 378.50,495.85 381.71,496.04 384.92,496.25 388.12,496.48 391.31,496.72 394.50,496.97 397.67,497.24 400.83,497.52 403.98,497.82 407.12,498.13 410.25,498.46 413.37,498.80 416.47,499.15 419.56,499.53 422.63,499.91 425.69,500.31 428.74,500.73 431.76,501.16 434.77,501.60 437.77,502.06 440.74,502.53 443.70,503.02 446.64,503.52 449.56,504.04 452.46,504.57 455.33,505.11 458.19,505.67 461.02,506.25 463.83,506.84 466.61,507.44 469.38,508.06 472.11,508.69 474.82,509.33 477.50,509.99 480.16,510.67 482.79,511.35 485.39,512.06 487.96,512.77 490.50,513.50 493.01,514.24 495.48,515.00 497.93,515.77 500.34,516.55 502.72,517.35 505.06,518.16 507.37,518.99 509.64,519.82 511.87,520.67 514.07,521.54 516.23,522.41 518.35,523.30 520.43,524.21 522.46,525.12 524.46,526.05 526.41,526.99 528.32,527.94 530.19,528.90 532.01,529.88 533.78,530.87 535.51,531.87 537.19,532.88 538.82,533.90 540.40,534.93 541.93,535.98 543.41,537.03 544.84,538.10 546.22,539.17 547.54,540.26 548.81,541.36 550.02,542.46 551.18,543.58 552.28,544.71 553.32,545.84 554.30,546.98 555.22,548.14 556.08,549.30 556.89,550.47 557.62,551.64 558.30,552.83 558.91,554.02 559.46,555.22 559.94,556.42 560.36,557.63 560.71,558.85 560.99,560.07 561.21,561.30 561.35,562.53 561.43,563.77 561.43,565.01 561.37,566.26 561.23,567.51 561.02,568.76 560.73,570.01 560.37,571.27 559.94,572.53 559.43,573.79 558.85,575.05 558.19,576.31 557.46,577.57 556.64,578.84 555.75,580.10 554.79,581.35 553.74,582.61 552.62,583.87 551.41,585.12 550.13,586.37 548.77,587.61 547.33,588.85 545.81,590.09 544.21,591.32 542.53,592.54 540.77,593.76 538.93,594.97 537.01,596.17 535.01,597.36 532.93,598.55 530.78,599.72 528.54,600.89 526.22,602.04 523.83,603.18 521.36,604.32 518.81,605.44 516.18,606.54 513.48,607.63 510.70,608.71 507.85,609.78 504.92,610.82 501.91,611.86" fill="#333333" stroke="#333333" stroke-width="0.5"/>
<polyline points="156.35,605.26 153.78,604.13 151.28,603.00 148.86,601.84 146.53,600.68 144.27,599.51 142.10,598.33 140.00,597.13 137.99,595.93 136.05,594.72 134.20,593.50 132.43,592.28 130.74,591.04 129.13,589.81 127.60,588.56 126.15,587.31 124.78,586.06 123.49,584.80 122.29,583.54 121.16,582.28 120.11,581.01 119.15,579.74 118.26,578.47 117.45,577.20 116.71,575.93 116.06,574.66 115.48,573.39 114.98,572.12 114.56,570.86 114.21,569.59 113.93,568.33 113.73,567.07 113.60,565.81 113.55,564.56 113.57,563.31" fill="none" stroke="#0ec7ff" stroke-width="1.5"/>
<polyline points="561.43,563.31 561.45,564.55 561.40,565.80 561.27,567.06 561.07,568.31 560.80,569.57 560.45,570.83 560.03,572.10 559.53,573.36 558.96,574.63 558.30,575.90 557.58,577.17 556.77,578.43 555.89,579.70 554.93,580.96 553.88,582.23 552.76,583.49 551.56,584.74 550.28,586.00 548.93,587.25 547.49,588.49 545.97,589.73 544.36,590.97 542.68,592.20 540.92,593.42 539.08,594.64 537.16,595.84 535.15,597.04 533.07,598.23 530.91,599.41 528.66,600.59 526.34,601.75 523.94,602.89 521.46,604.03 518.90,605.16 516.26,606.27 513.54,607.36 510.75,608.45 507.88,609.52 504.94,610.57 501.93,611.61" fill="none" stroke="#3a3a3a" stroke-width="1.5"/>
<polyline points="245.04,627.78 240.75,627.16 236.51,626.51 232.32,625.83 228.18,625.13 224.10,624.40 220.08,623.65 216.11,622.87 212.21,622.06 208.36,621.24 204.58,620.39 200.87,619.52 197.22,618.62 193.64,617.71 190.12,616.77 186.68,615.81 183.31,614.84 180.01,613.84 176.79,612.83 173.63,611.79 170.56,610.74 167.56,609.68 164.64,608.60 161.80,607.50 159.03,606.39 156.35,605.26" fill="none" stroke="#ffd70f" stroke-width="1.5"/>
<polyline points="501.93,611.61 498.79,612.64 495.59,613.66 492.31,614.65 488.95,615.63 485.53,616.59 482.03,617.53 478.47,618.45 474.84,619.35 471.14,620.22 467.38,621.07 463.55,621.90 459.66,622.71 455.71,623.49 451.71,624.25 447.64,624.98 443.53,625.69 439.35,626.37 435.13,627.03 430.86,627.65 426.54,628.25 422.17,628.83 417.76,629.37 413.31,629.89 408.82,630.37 404.29,630.83 399.73,631.26 395.14,631.65 390.51,632.02 385.86,632.36 381.19,632.66 376.49,632.94 371.77,633.18" fill="none" stroke="#386db2" stroke-width="1.5"/>
<polyline points="371.77,633.18 367.00,633.40 362.22,633.58 357.43,633.73 352.62,633.84 347.81,633.93 342.99,633.98 338.17,634.00 333.35,633.99 328.53,633.95 323.72,633.87 318.91,633.76 314.12,633.62 309.33,633.45 304.56,633.24 299.81,633.01 295.08,632.74 290.37,632.44 285.68,632.11 281.03,631.75 276.40,631.36 271.81,630.93 267.24,630.48 262.72,630.00 258.24,629.49 253.79,628.95 249.39,628.38 245.04,627.78" fill="none" stroke="#ff0f0f" stroke-width="1.5"/>
<text y="36.3" font-size="23.40" font-weight="bold" fill="#fff"><tspan x="226.00" textLength="112.61" lengthAdjust="spacingAndGlyphs">Kategorie</tspan> <tspan x="346.40" textLength="61.59" lengthAdjust="spacingAndGlyphs">18-49</tspan> <tspan x="416.00" textLength="34.20" lengthAdjust="spacingAndGlyphs">let</tspan></text>
<text y="419.5" font-size="23.40" font-weight="bold" fill="#fff"><tspan x="225.70" textLength="112.81" lengthAdjust="spacingAndGlyphs">Kategorie</tspan> <tspan x="346.10" textLength="61.79" lengthAdjust="spacingAndGlyphs">18-49</tspan> <tspan x="415.70" textLength="34.40" lengthAdjust="spacingAndGlyphs">let</tspan></text>
<text y="60.2" font-size="14.20" fill="#fff"><tspan x="229.20" textLength="38.60" lengthAdjust="spacingAndGlyphs">(Podíl</tspan> <tspan x="272.60" textLength="16.39" lengthAdjust="spacingAndGlyphs">na</tspan> <tspan x="292.00" textLength="27.60" lengthAdjust="spacingAndGlyphs">trhu</tspan> <tspan x="323.80" textLength="7.90" lengthAdjust="spacingAndGlyphs">v</tspan> <tspan x="336.50" textLength="27.90" lengthAdjust="spacingAndGlyphs">USA</tspan> <tspan x="369.07" textLength="5.26" lengthAdjust="spacingAndGlyphs">-</tspan> <tspan x="375.30" textLength="23.20" lengthAdjust="spacingAndGlyphs">40.</tspan> <tspan x="400.50" textLength="43.90" lengthAdjust="spacingAndGlyphs">týden)</tspan></text>
<text y="441.9" font-size="12.60" fill="#fff"><tspan x="187.60" textLength="39.80" lengthAdjust="spacingAndGlyphs">(Rating</tspan> <tspan x="229.52" textLength="6.26" lengthAdjust="spacingAndGlyphs">v</tspan> <tspan x="239.30" textLength="22.50" lengthAdjust="spacingAndGlyphs">USA</tspan> <tspan x="266.22" textLength="4.17" lengthAdjust="spacingAndGlyphs">-</tspan> <tspan x="274.30" textLength="18.80" lengthAdjust="spacingAndGlyphs">40.</tspan> <tspan x="296.10" textLength="33.20" lengthAdjust="spacingAndGlyphs">týden;</tspan> <tspan x="335.30" textLength="25.40" lengthAdjust="spacingAndGlyphs">číslo</tspan> <tspan x="362.95" textLength="10.76" lengthAdjust="spacingAndGlyphs">je</tspan> <tspan x="378.00" textLength="34.80" lengthAdjust="spacingAndGlyphs">udáno</tspan> <tspan x="418.72" textLength="6.26" lengthAdjust="spacingAndGlyphs">v</tspan> <tspan x="428.40" textLength="57.40" lengthAdjust="spacingAndGlyphs">milionech)</tspan></text>
<text y="76.9" font-size="10.40" font-weight="bold" fill="#fff"><tspan x="236.20" textLength="37.10" lengthAdjust="spacingAndGlyphs">stanice</tspan> <tspan x="277.00" textLength="19.40" lengthAdjust="spacingAndGlyphs">CW</tspan> <tspan x="298.40" textLength="40.97" lengthAdjust="spacingAndGlyphs">nevysílá</tspan> <tspan x="345.39" textLength="6.42" lengthAdjust="spacingAndGlyphs">v</tspan> <tspan x="353.60" textLength="38.49" lengthAdjust="spacingAndGlyphs">sobotu</tspan> <tspan x="395.55" textLength="6.42" lengthAdjust="spacingAndGlyphs">a</tspan> <tspan x="404.60" textLength="34.10" lengthAdjust="spacingAndGlyphs">neděli</tspan></text>
<text y="457.2" font-size="10.40" font-weight="bold" fill="#fff"><tspan x="235.20" textLength="37.10" lengthAdjust="spacingAndGlyphs">stanice</tspan> <tspan x="276.00" textLength="19.40" lengthAdjust="spacingAndGlyphs">CW</tspan> <tspan x="297.40" textLength="40.97" lengthAdjust="spacingAndGlyphs">nevysílá</tspan> <tspan x="344.39" textLength="6.42" lengthAdjust="spacingAndGlyphs">v</tspan> <tspan x="352.60" textLength="38.49" lengthAdjust="spacingAndGlyphs">sobotu</tspan> <tspan x="394.55" textLength="6.42" lengthAdjust="spacingAndGlyphs">a</tspan> <tspan x="403.60" textLength="34.10" lengthAdjust="spacingAndGlyphs">neděli</tspan></text>
<text y="264.7" font-size="14.20" font-weight="bold" fill="#fff"><tspan x="80.70" textLength="30.60" lengthAdjust="spacingAndGlyphs">2,20</tspan></text>
<text y="294.6" font-size="14.20" font-weight="bold" fill="#fff"><tspan x="114.80" textLength="30.60" lengthAdjust="spacingAndGlyphs">8,43</tspan></text>
<text y="327.2" font-size="14.20" font-weight="bold" fill="#fff"><tspan x="210.50" textLength="30.60" lengthAdjust="spacingAndGlyphs">5,86</tspan></text>
<text y="334.0" font-size="14.20" font-weight="bold" fill="#fff"><tspan x="330.90" textLength="30.60" lengthAdjust="spacingAndGlyphs">6,43</tspan></text>
<text y="319.6" font-size="14.20" font-weight="bold" fill="#fff"><tspan x="461.30" textLength="30.60" lengthAdjust="spacingAndGlyphs">7,43</tspan></text>
<text y="611.0" font-size="14.20" font-weight="bold" fill="#fff"><tspan x="74.80" textLength="30.60" lengthAdjust="spacingAndGlyphs">1,10</tspan></text>
<text y="645.4" font-size="14.20" font-weight="bold" fill="#fff"><tspan x="82.20" textLength="30.60" lengthAdjust="spacingAndGlyphs">4,06</tspan></text>
<text y="689.5" font-size="14.20" font-weight="bold" fill="#fff"><tspan x="158.10" textLength="30.60" lengthAdjust="spacingAndGlyphs">2,84</tspan></text>
<text y="713.0" font-size="14.20" font-weight="bold" fill="#fff"><tspan x="272.40" textLength="30.60" lengthAdjust="spacingAndGlyphs">3,08</tspan></text>
<text y="701.3" font-size="14.20" font-weight="bold" fill="#fff"><tspan x="448.70" textLength="30.60" lengthAdjust="spacingAndGlyphs">3,63</tspan></text>
<rect x="222.60" y="360.00" width="7.2" height="6.8" fill="#295692"/>
<polygon points="222.60,360.00 229.80,360.00 226.20,363.40" fill="#4d86d2"/>
<polygon points="222.60,366.80 229.80,366.80 226.20,363.40" fill="#1f426f"/>
<polygon points="229.80,360.00 229.80,366.80 226.20,363.40" fill="#265088"/>
<text y="367.0" font-size="10.80" fill="#fff"><tspan x="232.10" textLength="20.10" lengthAdjust="spacingAndGlyphs">FOX</tspan></text>
<rect x="261.20" y="360.00" width="7.2" height="6.8" fill="#e50000"/>
<polygon points="261.20,360.00 268.40,360.00 264.80,363.40" fill="#ff1919"/>
<polygon points="261.20,366.80 268.40,366.80 264.80,363.40" fill="#ae0000"/>
<polygon points="268.40,360.00 268.40,366.80 264.80,363.40" fill="#d40000"/>
<text y="367.0" font-size="10.80" fill="#fff"><tspan x="270.70" textLength="21.00" lengthAdjust="spacingAndGlyphs">ABC</tspan></text>
<rect x="300.40" y="360.00" width="7.2" height="6.8" fill="#e5ad00"/>
<polygon points="300.40,360.00 307.60,360.00 304.00,363.40" fill="#fff319"/>
<polygon points="300.40,366.80 307.60,366.80 304.00,363.40" fill="#ae8300"/>
<polygon points="307.60,360.00 307.60,366.80 304.00,363.40" fill="#d4a000"/>
<text y="367.0" font-size="10.80" fill="#fff"><tspan x="309.80" textLength="22.00" lengthAdjust="spacingAndGlyphs">NBC</tspan></text>
<rect x="339.90" y="360.00" width="7.2" height="6.8" fill="#00a0dc"/>
<polygon points="339.90,360.00 347.10,360.00 343.50,363.40" fill="#19e3ff"/>
<polygon points="339.90,366.80 347.10,366.80 343.50,363.40" fill="#0079a7"/>
<polygon points="347.10,360.00 347.10,366.80 343.50,363.40" fill="#0094cc"/>
<text y="367.0" font-size="10.80" fill="#fff"><tspan x="349.80" textLength="18.20" lengthAdjust="spacingAndGlyphs">CBS</tspan></text>
<rect x="376.40" y="360.00" width="7.2" height="6.8" fill="#81be3d"/>
<polygon points="376.40,360.00 383.60,360.00 380.00,363.40" fill="#bcff66"/>
<polygon points="376.40,366.80 383.60,366.80 380.00,363.40" fill="#62902e"/>
<polygon points="383.60,360.00 383.60,366.80 380.00,363.40" fill="#78b038"/>
<text y="367.0" font-size="10.80" fill="#fff"><tspan x="386.80" textLength="17.60" lengthAdjust="spacingAndGlyphs">CW</tspan></text>
<rect x="413.50" y="360.00" width="7.2" height="6.8" fill="#303030"/>
<polygon points="413.50,360.00 420.70,360.00 417.10,363.40" fill="#565656"/>
<polygon points="413.50,366.80 420.70,366.80 417.10,363.40" fill="#252525"/>
<polygon points="420.70,360.00 420.70,366.80 417.10,363.40" fill="#2d2d2d"/>
<text y="367.0" font-size="10.80" fill="#fff"><tspan x="422.60" textLength="35.90" lengthAdjust="spacingAndGlyphs">Ostatní</tspan></text>
<rect x="221.90" y="738.00" width="7.2" height="6.8" fill="#295692"/>
<polygon points="221.90,738.00 229.10,738.00 225.50,741.40" fill="#4d86d2"/>
<polygon points="221.90,744.80 229.10,744.80 225.50,741.40" fill="#1f426f"/>
<polygon points="229.10,738.00 229.10,744.80 225.50,741.40" fill="#265088"/>
<text y="744.9" font-size="10.80" fill="#fff"><tspan x="231.40" textLength="20.10" lengthAdjust="spacingAndGlyphs">FOX</tspan></text>
<rect x="260.50" y="738.00" width="7.2" height="6.8" fill="#e50000"/>
<polygon points="260.50,738.00 267.70,738.00 264.10,741.40" fill="#ff1919"/>
<polygon points="260.50,744.80 267.70,744.80 264.10,741.40" fill="#ae0000"/>
<polygon points="267.70,738.00 267.70,744.80 264.10,741.40" fill="#d40000"/>
<text y="744.9" font-size="10.80" fill="#fff"><tspan x="270.00" textLength="21.00" lengthAdjust="spacingAndGlyphs">ABC</tspan></text>
<rect x="299.70" y="738.00" width="7.2" height="6.8" fill="#e5ad00"/>
<polygon points="299.70,738.00 306.90,738.00 303.30,741.40" fill="#fff319"/>
<polygon points="299.70,744.80 306.90,744.80 303.30,741.40" fill="#ae8300"/>
<polygon points="306.90,738.00 306.90,744.80 303.30,741.40" fill="#d4a000"/>
<text y="744.9" font-size="10.80" fill="#fff"><tspan x="309.10" textLength="22.00" lengthAdjust="spacingAndGlyphs">NBC</tspan></text>
<rect x="339.20" y="738.00" width="7.2" height="6.8" fill="#00a0dc"/>
<polygon points="339.20,738.00 346.40,738.00 342.80,741.40" fill="#19e3ff"/>
<polygon points="339.20,744.80 346.40,744.80 342.80,741.40" fill="#0079a7"/>
<polygon points="346.40,738.00 346.40,744.80 342.80,741.40" fill="#0094cc"/>
<text y="744.9" font-size="10.80" fill="#fff"><tspan x="349.10" textLength="18.20" lengthAdjust="spacingAndGlyphs">CBS</tspan></text>
<rect x="375.70" y="738.00" width="7.2" height="6.8" fill="#81be3d"/>
<polygon points="375.70,738.00 382.90,738.00 379.30,741.40" fill="#bcff66"/>
<polygon points="375.70,744.80 382.90,744.80 379.30,741.40" fill="#62902e"/>
<polygon points="382.90,738.00 382.90,744.80 379.30,741.40" fill="#78b038"/>
<text y="744.9" font-size="10.80" fill="#fff"><tspan x="386.10" textLength="17.60" lengthAdjust="spacingAndGlyphs">CW</tspan></text>
<rect x="412.80" y="738.00" width="7.2" height="6.8" fill="#303030"/>
<polygon points="412.80,738.00 420.00,738.00 416.40,741.40" fill="#565656"/>
<polygon points="412.80,744.80 420.00,744.80 416.40,741.40" fill="#252525"/>
<polygon points="420.00,738.00 420.00,744.80 416.40,741.40" fill="#2d2d2d"/>
<text y="744.9" font-size="10.80" fill="#fff"><tspan x="421.90" textLength="35.90" lengthAdjust="spacingAndGlyphs">Ostatní</tspan></text>
</svg>
</body></html>
